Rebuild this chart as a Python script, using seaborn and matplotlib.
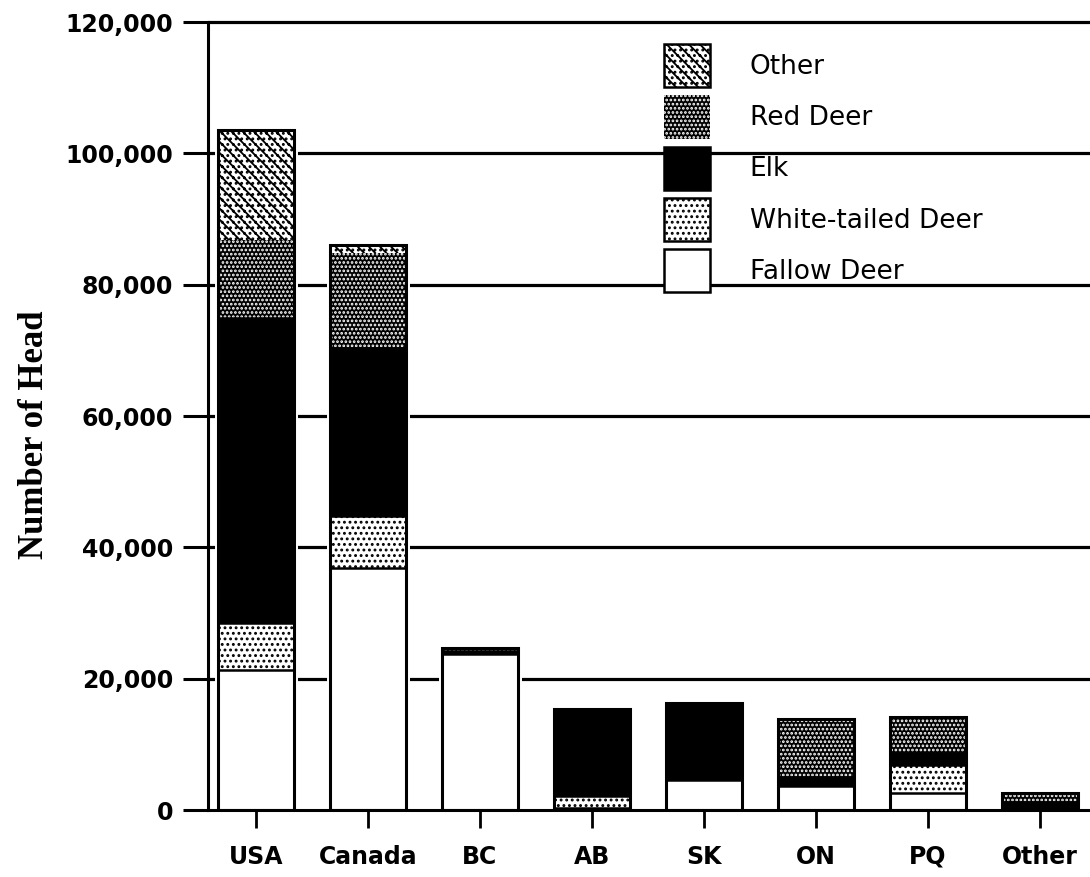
import matplotlib
matplotlib.use("Agg")
import matplotlib.pyplot as plt
from matplotlib.patches import Patch
from matplotlib.ticker import FuncFormatter
import numpy as np
import seaborn as sns

# Farmed deer inventory by region and species (number of head)
categories = ["USA", "Canada", "BC", "AB", "SK", "ON", "PQ", "Other"]
fallow_deer = [21300, 36800, 23700, 300, 4600, 3700, 2600, 0]
white_tailed_deer = [7200, 7900, 0, 1900, 0, 0, 4200, 0]
elk = [46400, 25600, 500, 13200, 11700, 1300, 1900, 1200]
red_deer = [11900, 14500, 400, 0, 0, 8900, 5500, 1400]
other = [16700, 1200, 0, 0, 0, 0, 0, 0]

species = ["Fallow Deer", "White-tailed Deer", "Elk", "Red Deer", "Other"]
series = [fallow_deer, white_tailed_deer, elk, red_deer, other]
y_ticks = [0, 20000, 40000, 60000, 80000, 100000, 120000]

# face colour, hatch, hatch colour, segment edge width
styles = {
    "Fallow Deer": ("white", "", "black", 1.8),
    "White-tailed Deer": ("white", "...", "black", 1.8),
    "Elk": ("black", "", "black", 1.8),
    "Red Deer": ("black", "....", "white", 0.0),
    "Other": ("white", "\\\\\\...", "black", 1.8),
}

BAR_W = 0.68

sns.set_theme(style="white")
plt.rcParams["font.family"] = ["DejaVu Sans"]
plt.rcParams["hatch.linewidth"] = 1.3

fig = plt.figure(figsize=(10.9, 8.77), dpi=100)
ax = fig.add_axes([208 / 1090, 67 / 877, 882 / 1090, 788 / 877])

cum = np.cumsum(np.array(series), axis=0)
totals = cum[-1]

# white halo separating the bars from the grid lines
n0 = len(ax.patches)
sns.barplot(x=categories, y=totals, color="white", saturation=1, width=BAR_W,
            errorbar=None, ax=ax)
for p in ax.patches[n0:]:
    p.set_edgecolor("white")
    p.set_linewidth(5)
    p.set_zorder(1)

# stacked segments, drawn from the tallest cumulative layer down
for i in range(len(species) - 1, -1, -1):
    face, hatch, hcol, lw = styles[species[i]]
    n0 = len(ax.patches)
    sns.barplot(x=categories, y=cum[i], color=face, saturation=1, width=BAR_W,
                errorbar=None, ax=ax)
    for p in ax.patches[n0:]:
        p.set_facecolor(face)
        p.set_edgecolor(hcol)
        p.set_hatch(hatch)
        p.set_linewidth(lw)
        p.set_zorder(2)

# outer outline of each stack
n0 = len(ax.patches)
sns.barplot(x=categories, y=totals, color="white", saturation=1, width=BAR_W,
            errorbar=None, ax=ax)
for p in ax.patches[n0:]:
    p.set_facecolor("none")
    p.set_edgecolor("black")
    p.set_linewidth(2.2)
    p.set_zorder(3)

ax.set_xlim(-0.43, 7.45)
ax.set_ylim(0, 120000)
ax.set_yticks(y_ticks)
ax.yaxis.set_major_formatter(FuncFormatter(lambda v, _: f"{int(v):,}"))

for y in y_ticks[1:]:
    ax.axhline(y, color="black", lw=2.3, zorder=0.5, clip_on=False)

for s in ["top", "right"]:
    ax.spines[s].set_visible(False)
for s in ["left", "bottom"]:
    ax.spines[s].set_color("black")
    ax.spines[s].set_linewidth(2.2)

ax.tick_params(axis="y", direction="out", length=18, width=2.2, color="black",
               pad=7, labelsize=17, left=True)
ax.tick_params(axis="x", direction="out", length=13, width=2.0, color="black",
               pad=12, labelsize=17, bottom=True)
for lab in ax.get_xticklabels() + ax.get_yticklabels():
    lab.set_fontweight("bold")
    lab.set_color("black")

ax.set_xlabel("")
ax.set_ylabel("Number of Head", fontsize=25, fontweight="bold",
              family="Liberation Serif", color="black")
ax.yaxis.set_label_coords(-0.178, 0.476)

handles = []
for name in reversed(species):
    face, hatch, hcol, lw = styles[name]
    handles.append(Patch(facecolor=face, edgecolor=hcol if hatch else "black",
                         hatch=hatch, linewidth=1.8 if hcol == "black" else 0))
fig.legend(handles, list(reversed(species)), loc="upper left",
           bbox_to_anchor=(664 / 1090, 1 - 44 / 877), frameon=False,
           fontsize=19, labelcolor="black", handlelength=1.75,
           handleheight=2.15, labelspacing=0.3, handletextpad=1.5,
           borderpad=0, borderaxespad=0)

fig.savefig("out.png", dpi=100)
